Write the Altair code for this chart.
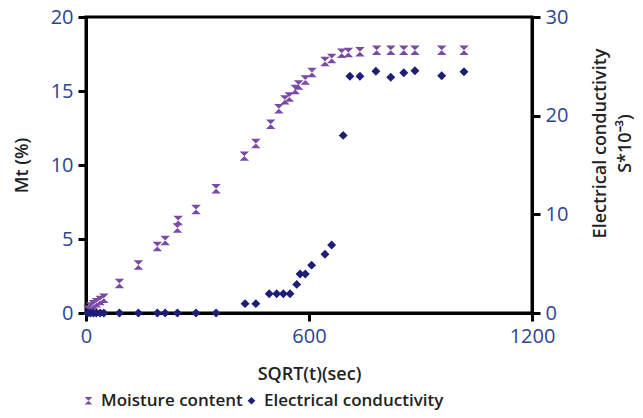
import altair as alt
import pandas as pd

# Moisture content (left axis, %)
moist_x = [5, 12, 20, 28, 38, 48, 90, 141, 192, 213, 246, 248, 296, 350, 426, 457,
           497, 519, 535, 547, 563, 572, 590, 608, 643, 661, 688, 706, 737, 782,
           820, 855, 885, 957, 1017]
moist_y = [0.2, 0.4, 0.55, 0.7, 0.85, 1.0, 2.0, 3.25, 4.5, 4.9, 5.75, 6.25, 7.0, 8.4,
           10.6, 11.45, 12.75, 13.8, 14.4, 14.6, 15.1, 15.4, 15.75, 16.25, 17.0, 17.2,
           17.55, 17.6, 17.65, 17.75, 17.75, 17.75, 17.75, 17.75, 17.75]

# Electrical conductivity (right axis, S*10^-3)
ec_x = [5, 12, 20, 28, 38, 48, 90, 141, 192, 213, 246, 296, 350, 428, 457, 493,
        513, 531, 549, 567, 576, 590, 607, 643, 661, 692, 710, 737, 780, 820, 855,
        885, 957, 1017]
ec_y = [0, 0, 0, 0, 0, 0, 0, 0, 0, 0, 0, 0, 0, 0.95, 0.95, 1.95, 1.95, 1.95, 1.95,
        2.9, 3.95, 3.95, 4.85, 5.95, 6.9, 18.0, 24.0, 24.0, 24.5, 23.9, 24.35, 24.55,
        24.05, 24.45]

series = ["Moisture content", "Electrical conductivity"]
x_ticks = [0, 600, 1200]
left_ticks = [0, 5, 10, 15, 20]
right_ticks = [0, 10, 20, 30]

df_m = pd.DataFrame({"x": moist_x, "y": moist_y, "series": series[0]})
df_e = pd.DataFrame({"x": ec_x, "y": ec_y, "series": series[1]})

hourglass = "M-1,-1L1,-1L-1,1L1,1Z"
FONT = "Open Sans"
LBL = "#2b4595"

color = alt.Color("series:N",
                  scale=alt.Scale(domain=series, range=["#7a4aa4", "#1e1e78"]),
                  legend=alt.Legend(title=None, orient="none", legendX=-6, legendY=375,
                                    direction="horizontal", labelFontSize=17,
                                    labelColor="#222", labelFont=FONT, labelFontWeight=600,
                                    labelLimit=400, symbolSize=60, columnPadding=0,
                                    labelOffset=4))
shape = alt.Shape("series:N", scale=alt.Scale(domain=series, range=[hourglass, "diamond"]))

xenc = alt.X("x:Q", scale=alt.Scale(domain=[0, 1200], nice=False),
             axis=alt.Axis(values=x_ticks, title="SQRT(t)(sec)", labelFlush=False,
                           format="d", titlePadding=19))

m = alt.Chart(df_m).mark_point(filled=True, size=90, opacity=1).encode(
    x=xenc,
    y=alt.Y("y:Q", scale=alt.Scale(domain=[0, 20], nice=False),
            axis=alt.Axis(values=left_ticks, title="Mt (%)", orient="left", titlePadding=19)),
    color=color, shape=shape)

e = alt.Chart(df_e).mark_point(filled=True, size=80, opacity=1).encode(
    x=xenc,
    y=alt.Y("y:Q", scale=alt.Scale(domain=[0, 30], nice=False),
            axis=alt.Axis(values=right_ticks, title=["Electrical conductivity", "S*10⁻³)"],
                          orient="right", titleAngle=270, titlePadding=17, titleY=126,
                          titleLineHeight=25)),
    color=color, shape=shape)

chart = alt.layer(m, e).resolve_scale(y="independent").properties(
    width=446, height=296,
    autosize=alt.AutoSizeParams(type="none"),
    padding={"left": 78, "top": 9, "right": 103, "bottom": 100},
).configure_view(stroke="black", strokeWidth=3).configure_axis(
    grid=False, domainColor="black", domainWidth=3, tickColor="black", tickWidth=3,
    tickSize=8, labelColor=LBL, labelFontSize=20, labelFont=FONT, labelPadding=5,
    titleFont=FONT, titleFontSize=18, titleColor="#222", titleFontWeight=600,
)

chart.save("out.html", embed_options={"renderer": "svg", "actions": False})
